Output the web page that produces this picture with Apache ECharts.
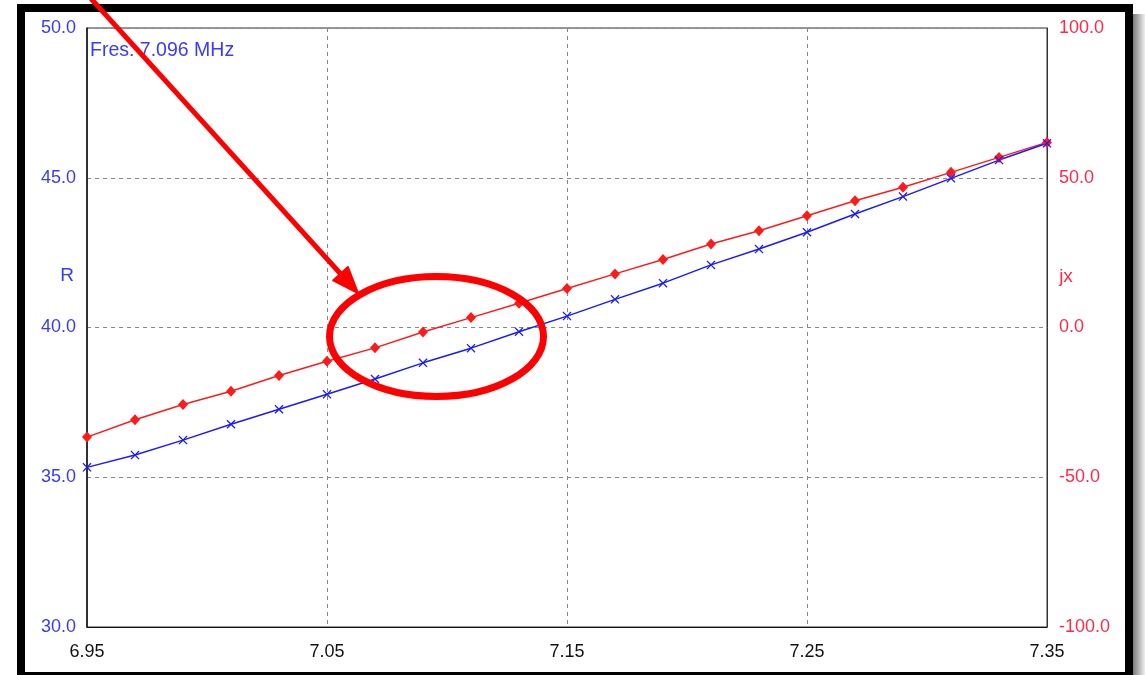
<!DOCTYPE html>
<html>
<head>
<meta charset="utf-8">
<script src="https://cdn.jsdelivr.net/npm/echarts@6/dist/echarts.min.js"></script>
<style>
html,body{margin:0;padding:0;background:#fff;}
#chart{width:1145px;height:675px;}
</style>
</head>
<body>
<div id="chart"></div>
<script>
// Frequency (MHz)
const freq = [6.95, 6.97, 6.99, 7.01, 7.03, 7.05, 7.07, 7.09, 7.11, 7.13, 7.15,
              7.17, 7.19, 7.21, 7.23, 7.25, 7.27, 7.29, 7.31, 7.33, 7.35];
// Resistance R (ohm), left axis
const rValues = [35.33, 35.74, 36.24, 36.77, 37.27, 37.77, 38.28, 38.82, 39.31, 39.86, 40.38,
                 40.94, 41.48, 42.09, 42.62, 43.18, 43.79, 44.37, 44.98, 45.59, 46.15];
// Reactance jx (ohm), right axis
const jxValues = [-36.6, -30.8, -25.7, -21.3, -16.0, -11.3, -6.8, -1.5, 3.3, 8.1, 13.0,
                  17.9, 22.7, 27.9, 32.3, 37.3, 42.3, 46.8, 51.8, 56.8, 61.8];
const fresText = 'Fres: 7.096 MHz';
const leftName = 'R';
const rightName = 'jx';

const chart = echarts.init(document.getElementById('chart'), null, {renderer: 'canvas'});
const FONT = '"Liberation Sans", Arial, sans-serif';
const BLUE = '#1a1aff';
const RED = '#ff1a1a';
const BLUE_TXT = '#3a3aff';
const RED_TXT = '#ff2a4a';

const xSymbol = 'path://M0,1L1,0L5,4L9,0L10,1L6,5L10,9L9,10L5,6L1,10L0,9L4,5Z';

// arrow geometry
const tip = [358, 293], tail = [85, -8];
const dx = tip[0]-tail[0], dy = tip[1]-tail[1], dl = Math.sqrt(dx*dx+dy*dy);
const ux = dx/dl, uy = dy/dl, nx = -uy, ny = ux;
const hl = 26, hw = 10;
const base = [tip[0]-hl*ux, tip[1]-hl*uy];

chart.setOption({
  backgroundColor: '#ffffff',
  animation: false,
  grid: {left: 87, right: 98, top: 28, bottom: 48, show: true, borderColor: '#333', borderWidth: 1, backgroundColor: '#fff'},
  xAxis: {
    type: 'value', min: 6.95, max: 7.35, interval: 0.1,
    axisLine: {show: true, onZero: false, lineStyle: {color: '#111', width: 1}},
    axisTick: {show: false},
    axisLabel: {color: '#111', fontFamily: FONT, fontSize: 18, margin: 16,
      formatter: v => v.toFixed(2)},
    splitLine: {show: true, lineStyle: {color: '#888', type: [4, 4], width: 1}}
  },
  yAxis: [{
    type: 'value', min: 30, max: 50, interval: 5, position: 'left',
    axisLine: {show: true, onZero: false, lineStyle: {color: '#111', width: 1.5}},
    axisTick: {show: false},
    axisLabel: {color: BLUE_TXT, fontFamily: FONT, fontSize: 18, margin: 11,
      formatter: v => v.toFixed(1)},
    splitLine: {show: true, lineStyle: {color: '#888', type: [4, 4], width: 1}}
  }, {
    type: 'value', min: -100, max: 100, interval: 50, position: 'right',
    axisLine: {show: true, onZero: false, lineStyle: {color: '#333', width: 1}},
    axisTick: {show: false},
    axisLabel: {color: RED_TXT, fontFamily: FONT, fontSize: 18, margin: 12,
      formatter: v => v.toFixed(1)},
    splitLine: {show: false}
  }],
  series: [{
    name: 'jx', type: 'line', yAxisIndex: 1,
    data: freq.map((f, i) => [f, jxValues[i]]),
    symbol: 'diamond', symbolSize: [10, 11], showAllSymbol: true,
    lineStyle: {color: RED, width: 1.5},
    itemStyle: {color: RED},
    clip: false
  }, {
    name: 'R', type: 'line', yAxisIndex: 0,
    data: freq.map((f, i) => [f, rValues[i]]),
    symbol: xSymbol, symbolSize: 9, showAllSymbol: true,
    lineStyle: {color: BLUE, width: 1.5},
    itemStyle: {color: BLUE},
    clip: false
  }],
  graphic: [
    {type: 'rect', z: 100, shape: {x: 1133, y: 14, width: 12, height: 661},
      style: {fill: new echarts.graphic.LinearGradient(0, 0, 1, 0, [
        {offset: 0, color: '#7a7a7a'}, {offset: 1, color: '#f0f0f0'}])}, silent: true},
    {type: 'rect', z: 100, shape: {x: 21, y: 8, width: 1108, height: 668},
      style: {fill: 'none', stroke: '#000', lineWidth: 8}, silent: true},
    {type: 'text', z: 100, left: 90, top: 41,
      style: {text: fresText, fill: BLUE_TXT, font: '19.5px ' + FONT}},
    {type: 'text', z: 100, x: 67, y: 276,
      style: {text: leftName, fill: BLUE_TXT, font: '19px ' + FONT, align: 'center', verticalAlign: 'middle'}},
    {type: 'text', z: 100, x: 1066, y: 277,
      style: {text: rightName, fill: RED_TXT, font: '19px ' + FONT, align: 'center', verticalAlign: 'middle'}},
    {type: 'ellipse', z: 110, shape: {cx: 436.5, cy: 336.5, rx: 107, ry: 60},
      style: {fill: 'none', stroke: '#ff0000', lineWidth: 7}, silent: true},
    {type: 'line', z: 110, shape: {x1: tail[0], y1: tail[1], x2: base[0]+4*ux, y2: base[1]+4*uy},
      style: {stroke: '#ff0000', lineWidth: 5}, silent: true},
    {type: 'polygon', z: 110, shape: {points: [tip,
      [base[0]+hw*nx, base[1]+hw*ny], [base[0]-hw*nx, base[1]-hw*ny]]},
      style: {fill: '#ff0000', stroke: '#ff0000', lineWidth: 2, lineJoin: 'round'}, silent: true}
  ]
});
</script>
</body>
</html>
